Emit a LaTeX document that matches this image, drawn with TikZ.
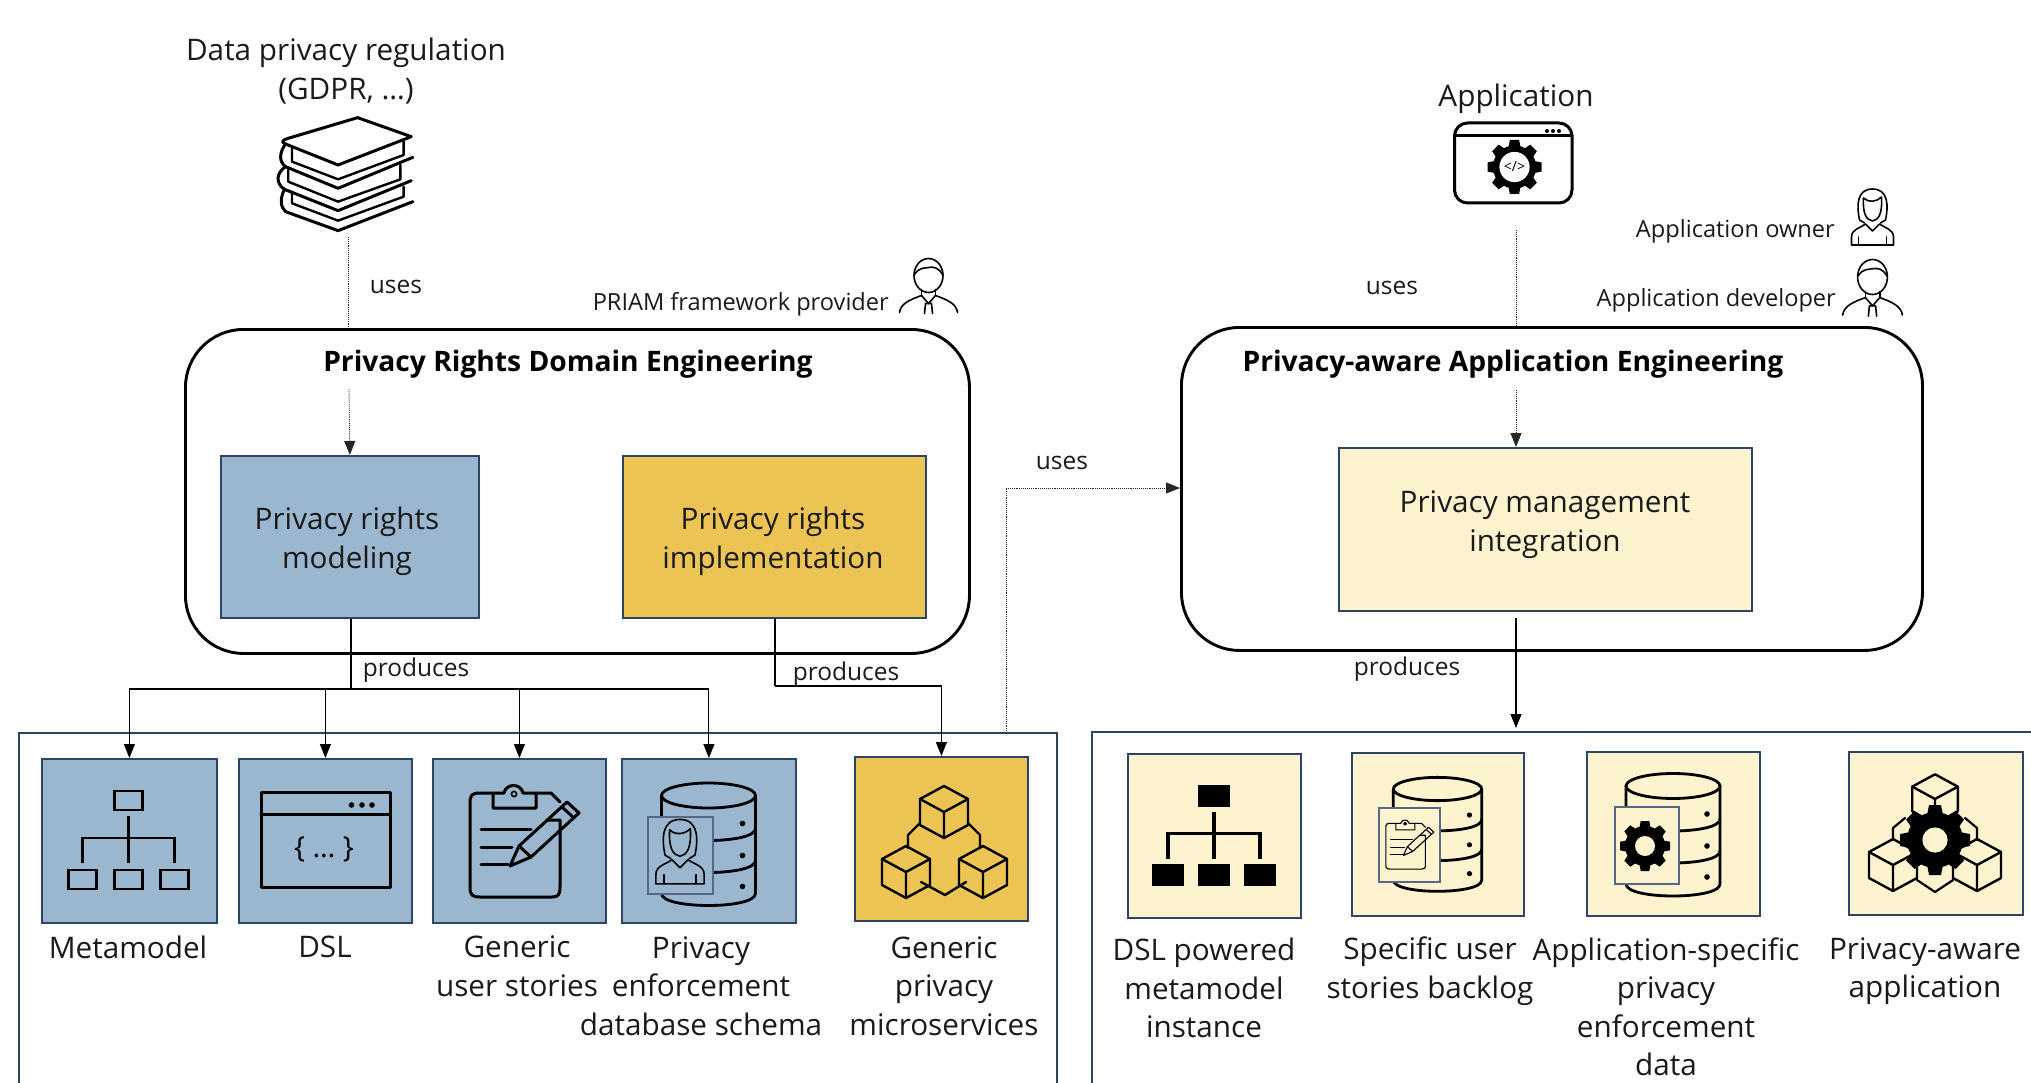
\documentclass[tikz,border=0pt]{standalone}
\usepackage{fontspec}
\setmainfont{Open Sans}
\usetikzlibrary{arrows.meta,calc}
\definecolor{boxblue}{HTML}{9AB7CF}
\definecolor{boxyellow}{HTML}{ECC453}
\definecolor{boxpale}{HTML}{FDF3CF}
\definecolor{navy}{HTML}{2B4468}
\definecolor{txt}{HTML}{1A1A1A}
\tikzset{
  bigtxt/.style={font=\fontsize{29.7}{38.5}\selectfont,text=txt,align=center,inner sep=0pt},
  midtxt/.style={font=\fontsize{24.5}{30}\selectfont,text=txt,align=center,inner sep=0pt},
  smalltxt/.style={font=\fontsize{23.6}{30}\selectfont,text=txt,inner sep=0pt},
  titletxt/.style={font=\fontsize{28.2}{30}\selectfont\bfseries,text=black,inner sep=0pt},
  phase/.style={draw=black,line width=2.9pt,rounded corners=58pt,anchor=north west,inner sep=0pt},
  blk/.style={draw=navy,line width=1.8pt,anchor=north west,inner sep=0pt},
  bluebox/.style={blk,fill=boxblue},
  yellowbox/.style={blk,fill=boxyellow},
  palebox/.style={blk,fill=boxpale},
  flow/.style={draw=black,line width=1.1pt,-{Triangle[length=14pt,width=11pt]}},
  plainflow/.style={draw=black,line width=1.1pt},
  dotflow/.style={draw=black!85,line width=.9pt,densely dotted},
  dotarrow/.style={dotflow,-{Triangle[length=14pt,width=11pt]}},
  frame/.style={draw=navy,line width=2pt},
  ic/.style={draw=black,line width=3pt,line join=round,line cap=round},
  thin ic/.style={draw=black,line width=1.6pt,line join=round,line cap=round},
  clipline/.style={ic},
  pics/hier/.style 2 args={code={
    \path[draw=black,line width=#2,fill=#1] (-14,-49) rectangle (14,-30);
    \path[draw=black,line width=#2,fill=#1] (-14,30) rectangle (14,49);
    \path[draw=black,line width=#2,fill=#1] (-60,30) rectangle (-32,49);
    \path[draw=black,line width=#2,fill=#1] (32,30) rectangle (60,49);
    \path[draw=black,line width=#2] (0,-24) -- (0,23) (-46,23) -- (-46,-2) -- (46,-2) -- (46,23);
  }},
  pics/gearicon/.style 2 args={code={
    \fill[black] (0,0) circle[radius=.8];
    \foreach \a in {0,45,...,315}{
      \fill[black,rotate=\a] (-.23,.7) -- (-.17,1) -- (.17,1) -- (.23,.7) -- cycle;
    }
    \fill[#2] (0,0) circle[radius=#1];
  }},
  pics/dbicon/.style={code={
    \path[ic,line width=2.8pt] (-47,0) -- (-47,98) .. controls (-47,114) and (47,114) .. (47,98) -- (47,0);
    \path[ic,line width=2.8pt] (-47,33) .. controls (-47,49) and (47,49) .. (47,33);
    \path[ic,line width=2.8pt] (-47,65) .. controls (-47,81) and (47,81) .. (47,65);
    \path[ic,line width=2.8pt] (0,0) ellipse[x radius=47,y radius=12.5];
    \fill[black] (34,28) circle[radius=2.8] (34,60) circle[radius=2.8] (34,91) circle[radius=2.8];
  }},
  pics/cubeicon/.style={code={
    \path[ic,line width=2.4pt] (0,-26) -- (24,-13) -- (24,13) -- (0,26) -- (-24,13) -- (-24,-13) -- cycle;
    \path[ic,line width=2.4pt] (-24,-13) -- (0,0) -- (24,-13) (0,0) -- (0,26);
  }},
  pics/personm/.style={code={
    \path[thin ic] (0,0) ellipse[x radius=14.5,y radius=17];
    \path[thin ic] (-14,-1) .. controls (-9,-9) and (-3,-7) .. (0,-8) .. controls (5,-9) and (10,-8) .. (14,-1);
    \path[thin ic] (-7,14) -- (-7,20) (7,14) -- (7,20);
    \path[thin ic] (-29,37) .. controls (-28,28) and (-18,24) .. (-7,20) -- (0,28) -- (7,20) .. controls (18,24) and (28,28) .. (29,37);
    \path[thin ic] (-3,28) -- (-4,38) (3,28) -- (4,38) (-3,28) -- (3,28);
  }},
  pics/personf/.style={code={
    \path[thin ic] (-13,14) .. controls (-16,0) and (-16,-17) .. (0,-17) .. controls (16,-17) and (16,0) .. (13,14) -- (8,17) (-13,14) -- (-8,17);
    \path[thin ic] (-9,-8) .. controls (-10,8) and (-6,14) .. (0,15) .. controls (6,14) and (10,8) .. (9,-9) .. controls (4,-4) and (-4,-3) .. (-9,-8);
    \path[thin ic] (-21,39) -- (-21,31) .. controls (-21,23) and (-12,22) .. (-7,18) -- (0,25) -- (7,18) .. controls (12,22) and (21,23) .. (21,31) -- (21,39) -- (-21,39);
    \path[thin ic] (-14,31) -- (-14,39) (14,31) -- (14,39);
  }},
  pics/clipicon/.style={code={
    \path[clipline] (23,-20) -- (35,-20) -- (35,47) .. controls (35,55) and (33,57) .. (27,57) -- (-45,57) .. controls (-53,57) and (-55,55) .. (-55,47) -- (-55,-37) .. controls (-55,-45) and (-53,-47) .. (-45,-47) -- (-32,-47);
    \path[clipline] (-32,-32) -- (-32,-47) -- (-21,-47) .. controls (-19,-57) and (-4,-57) .. (-2,-47) -- (11,-47) -- (11,-32) -- cycle;
    \path[clipline] (11,-47) -- (26,-47) -- (35,-38);
    \path[clipline] (-44,-11) -- (6,-11) (-44,7) -- (-13,7) (-44,24) -- (-17,24);
    \path[clipline,fill=none] (-15,26) -- (-6,6) -- (42,-38) -- (54,-27) -- (6,17) -- cycle (-6,6) -- (6,17) (37,-33) -- (49,-22);
    \path[clipline,line width=1.6pt] (-11,-46) circle[radius=2.6];
  }},
}
\begin{document}
\begin{tikzpicture}[x=1pt,y=-1pt]
\useasboundingbox (0,0) rectangle (2031,1083);

% ---------- phase frames ----------
\node[phase,minimum width=784pt,minimum height=324pt] (domain) at (184,328) {};
\node[phase,minimum width=741pt,minimum height=323pt] (appeng) at (1180,326) {};
\node[titletxt] (domaintitle) at (568,364) {Privacy Rights Domain Engineering};
\node[titletxt] (appengtitle) at (1513,364) {Privacy-aware Application Engineering};

% ---------- activities ----------
\node[bluebox,minimum width=258pt,minimum height=162pt] (modeling) at (220,455) {};
\node[bigtxt] (modelingtxt) at (347,541.5) {Privacy rights\\modeling};
\node[yellowbox,minimum width=303pt,minimum height=162pt] (impl) at (622,455) {};
\node[bigtxt] (impltxt) at (773,541.5) {Privacy rights\\implementation};
\node[palebox,minimum width=413pt,minimum height=163pt] (integ) at (1338,447) {};
\node[bigtxt] (integtxt) at (1545,524.5) {Privacy management\\integration};

% ---------- artefact containers (cut by the page bottom) ----------
\coordinate (lfa) at (19,1083); \coordinate (lfb) at (19,733);
\coordinate (lfc) at (1057,733); \coordinate (lfd) at (1057,1083);
\coordinate (rfa) at (1092,1083); \coordinate (rfb) at (1092,732); \coordinate (rfc) at (2031,732);
\draw[frame] (lfa) -- (lfb) -- (lfc) -- (lfd);
\draw[frame] (rfa) -- (rfb) -- (rfc);

% ---------- artefact boxes ----------
\node[bluebox,minimum width=175pt,minimum height=164pt] (meta) at (41,758) {};
\node[bluebox,minimum width=173pt,minimum height=164pt] (dsl) at (238,758) {};
\node[bluebox,minimum width=173pt,minimum height=164pt] (stories) at (432,758) {};
\node[bluebox,minimum width=174pt,minimum height=164pt] (schema) at (621,758) {};
\node[yellowbox,minimum width=173pt,minimum height=164pt] (micro) at (854,756) {};
\node[palebox,minimum width=173pt,minimum height=164pt] (inst) at (1127,753) {};
\node[palebox,minimum width=172pt,minimum height=163pt] (backlog) at (1351,752) {};
\node[palebox,minimum width=173pt,minimum height=164pt] (appdata) at (1586,751) {};
\node[palebox,minimum width=174pt,minimum height=163pt] (paapp) at (1848,751) {};

% ---------- artefact labels ----------
\node[bigtxt] (metatxt) at (128,947) {Metamodel};
\node[bigtxt] (dsltxt) at (325,947) {DSL};
\node[bigtxt] (storiestxt) at (517,966) {Generic\\user stories};
\node[bigtxt] (schematxt) at (701,986) {Privacy\\enforcement\\database schema};
\node[bigtxt] (microtxt) at (944,986) {Generic\\privacy\\microservices};
\node[bigtxt] (insttxt) at (1204,988) {DSL powered\\metamodel\\instance};
\node[bigtxt] (backlogtxt) at (1430,971) {Specific user\\stories backlog};
\node[bigtxt] (appdatatxt) at (1666,1007) {Application-specific\\privacy\\enforcement\\data};
\node[bigtxt] (paapptxt) at (1925,971) {Privacy-aware\\application};

% ---------- top labels ----------
\node[bigtxt] (regtxt) at (346,71) {Data privacy regulation\\(GDPR, …)};
\node[bigtxt] (apptxt) at (1516,99) {Application};
\node[smalltxt,anchor=east] (priamtxt) at (889,304) {PRIAM framework provider};
\node[smalltxt,anchor=east] (ownertxt) at (1835,231) {Application owner};
\node[smalltxt,anchor=east] (devtxt) at (1836,300) {Application developer};

% ---------- connectors ----------
\coordinate (regfoot) at (348,237);
\coordinate (regin) at (349,389);
\draw[dotflow] (regfoot) -- (regfoot |- domain.north);
\draw[dotarrow] (regin) -- (modeling.north);
\node[midtxt] (uses1) at (396,287) {uses};

\coordinate (appfoot) at (1516,230);
\coordinate (appin) at (1516,390);
\draw[dotflow] (appfoot) -- (appfoot |- appeng.north);
\draw[dotarrow] (appin) -- (appin |- integ.north);
\node[midtxt] (uses2) at (1392,288) {uses};

\coordinate (lfout) at (1006,733);
\coordinate (bend) at (1006,488);
\draw[dotflow] (lfout) -- (bend);
\draw[dotarrow] (bend) -- (bend -| appeng.west);
\node[midtxt] (uses3) at (1062,463) {uses};

\coordinate (mbus) at (351,689);
\draw[plainflow] (mbus |- modeling.south) -- (mbus);
\draw[flow] (mbus) -| (meta.north);
\draw[flow] (mbus) -| (dsl.north);
\draw[flow] (mbus) -| (stories.north);
\draw[flow] (mbus) -| (schema.north);
\node[midtxt] (prod1) at (416,670) {produces};

\coordinate (ibus) at (775,686);
\draw[plainflow] (ibus |- impl.south) -- (ibus);
\draw[flow] (ibus) -| (micro.north);
\node[midtxt] (prod2) at (846,674) {produces};

\coordinate (pout) at (1516,618);
\coordinate (pin) at (1516,728);
\draw[flow] (pout) -- (pin);
\node[midtxt] (prod3) at (1407,669) {produces};

% ---------- icons: people ----------
\pic at (928.5,275.5) {personm};
\pic[scale=1.03] at (1872.5,277) {personm};
\pic at (1872.5,206) {personf};

% ---------- icon: books ----------
\begin{scope}[shift={(150,20)},xscale=0.542,yscale=0.3333]
  \path[ic] (383,293) -- (482,350) -- (347,435) -- (250,372) .. controls (240,365) and (245,360) .. (255,355) -- cycle;
  \path[ic] (250,372) .. controls (238,400) and (238,425) .. (250,440) -- (347,505) -- (485,412);
  \path[ic,line width=2.4pt] (262,385) -- (262,425) -- (347,478) -- (468,405) -- (468,362);
  \path[ic] (250,440) .. controls (232,460) and (232,490) .. (248,508) -- (347,572) -- (482,482);
  \path[ic,line width=2.4pt] (255,450) -- (255,485) -- (347,545) -- (462,478) -- (462,435);
  \path[ic] (248,508) .. controls (240,535) and (240,560) .. (250,575) -- (347,632) -- (485,545);
  \path[ic,line width=2.4pt] (262,515) -- (262,550) -- (347,602) -- (468,530) -- (468,500);
\end{scope}

% ---------- icon: application window ----------
\path[ic,rounded corners=13pt] (1454.5,123) rectangle (1572,203);
\path[ic] (1454.5,136) -- (1572,136);
\fill[black] (1547,131) circle[radius=2] (1553,131) circle[radius=2] (1559,131) circle[radius=2];
\pic[scale=27] at (1514.5,167) {gearicon={.56}{white}};
\node[font=\fontsize{14}{15}\selectfont,inner sep=0pt] (codetxt) at (1514.5,167) {</>};

% ---------- icons: artefacts ----------
\pic at (128.5,840) {hier={none}{2.8pt}};
\pic at (1214,835.5) {hier={black}{3.6pt}};

\path[ic] (261,792) rectangle (390,887);
\path[ic] (261,814) -- (390,814);
\fill[black] (351.5,805) circle[radius=2.8] (362,805) circle[radius=2.8] (372,805) circle[radius=2.8];
\node[font=\fontsize{29}{30}\selectfont,inner sep=0pt] (bracetxt) at (324,849) {\{ … \}};

\pic at (525,840) {clipicon};

\pic at (708.5,795.5) {dbicon};
\node[draw=navy!80,line width=1.6pt,fill=boxblue,anchor=north west,minimum width=65pt,minimum height=77pt,inner sep=0pt] (card1) at (647,816) {};
\pic[scale=1.15] at (680,839) {personf};

\pic at (944,812) {cubeicon};
\pic at (906,872) {cubeicon};
\pic at (983,872) {cubeicon};
\path[ic,line width=2.4pt] (920,823) -- (908,835) -- (908,848) (968,823) -- (980,835) -- (980,848) (921,882) -- (945,895) -- (966,882);

\pic[xscale=.94,yscale=.93] at (1437.5,789) {dbicon};
\node[draw=navy!80,line width=1.6pt,fill=boxpale,anchor=north west,minimum width=61pt,minimum height=74pt,inner sep=0pt] (card2) at (1378,807) {};
\pic[scale=.44,clipline/.style={draw=black,line width=1.1pt,line join=round,line cap=round}] at (1410,844) {clipicon};

\pic at (1673,786) {dbicon};
\node[draw=navy!80,line width=1.6pt,fill=boxpale,anchor=north west,minimum width=64pt,minimum height=77pt,inner sep=0pt] (card3) at (1614,806) {};
\pic[scale=25] at (1645,846) {gearicon={.4}{boxpale}};

\pic[scale=.95] at (1935,799) {cubeicon};
\pic at (1893,865) {cubeicon};
\pic at (1977,865) {cubeicon};
\path[ic,line width=2.2pt] (1917,880) -- (1935,892) -- (1953,880) (1905,818) -- (1893,828) -- (1893,840) (1965,818) -- (1977,828) -- (1977,840);
\pic[scale=35] at (1935,840) {gearicon={.36}{boxpale}};
\end{tikzpicture}
\end{document}
